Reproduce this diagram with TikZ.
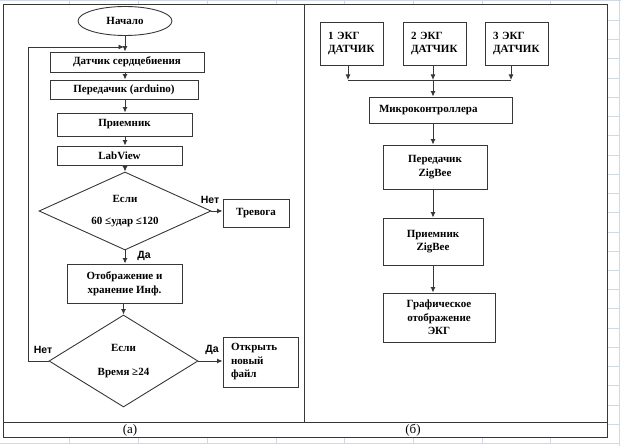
\documentclass[tikz,border=0pt]{standalone}
\usepackage{fontspec}
\setmainfont{Liberation Serif}
\newfontfamily\tagfont{Liberation Sans}
\usetikzlibrary{arrows.meta, shapes.geometric}

\definecolor{gridline}{RGB}{208,215,229}
\definecolor{frameline}{RGB}{55,55,55}

\begin{document}
\begin{tikzpicture}[
		x=1pt, y=-1pt, % pixel-like coordinates, y downwards
		>={Latex[length=5.5pt,width=5pt]},
		font=\fontsize{11}{13.5}\selectfont\bfseries,
		line width=0.9pt,
		block/.style={draw=frameline, rectangle, inner sep=2pt, align=center},
		decision/.style={draw=frameline, diamond, aspect=2.2, inner sep=0pt, align=center},
		flow/.style={->, frameline},
		tag/.style={font=\fontsize{10.5}{12}\selectfont\tagfont\bfseries}
		]
		
		\useasboundingbox (0,0) rectangle (621,446);
		
		% --- 1. Sheet grid behind the table ---
		\draw[gridline] (0,0.5) -- (621,0.5);
		\draw[gridline] (0,443.5) -- (619.5,443.5);
		\draw[gridline] (619.5,0) -- (619.5,446);
		\foreach \gx in {69,138,207,276,344,413,482,550} {
			\draw[gridline] (\gx,0) -- (\gx,4);
			\draw[gridline] (\gx,437) -- (\gx,443.5);
		}
		\foreach \k in {0,...,22} {
			\draw[gridline] (607,{443.5-19.23*\k}) -- (619.5,{443.5-19.23*\k});
		}
		
		% --- 2. Table frame ---
		\draw[frameline] (3,4) rectangle (607,437);
		\draw[frameline] (3,422) -- (607,422);
		\draw[frameline] (304,4) -- (304,422);
		\node[font=\fontsize{13}{14}\selectfont] (capa) at (130,430) {(а)};
		\node[font=\fontsize{13}{14}\selectfont] (capb) at (413,430) {(б)};
		
		% --- 3. Left flowchart (a) ---
		\node[draw=frameline, ellipse, minimum width=94, minimum height=29, inner sep=0pt] (start) at (125,21) {Начало};
		\node[block, minimum width=154, minimum height=20] (sensor) at (127,62) {Датчик сердцебиения};
		\node[block, minimum width=148, minimum height=19] (sender) at (124,89.5) {Передачик (arduino)};
		\node[block, minimum width=135, minimum height=23] (receiver) at (124.5,124.5) {Приемник};
		\node[block, minimum width=125, minimum height=19] (labview) at (119.5,155.5) {LabView};
		\node[decision, minimum width=172, minimum height=78] (check) at (125,211) {Если\\[8pt]60 ≤удар ≤120};
		\node[block, minimum width=66, minimum height=28] (alarm) at (256,213) {Тревога};
		\node[block, minimum width=115, minimum height=39] (store) at (124.5,283.5) {Отображение и\\хранение Инф.};
		\node[decision, minimum width=149, minimum height=92] (timer) at (123.5,361) {Если\\[10pt]Время ≥24};
		\node[block, minimum width=75, minimum height=50, text width=59, align=left, inner xsep=8pt] (newfile) at (260.5,362) {Открыть\\новый\\файл};
		
		\coordinate (join) at (124,47);
		
		\draw[flow] (start.south) -- (sensor.north -| start);
		\draw[flow] (sensor.south -| start) -- (sender.north -| start);
		\draw[flow] (sender.south -| start) -- (receiver.north -| start);
		\draw[flow] (receiver.south -| start) -- (labview.north -| start);
		\draw[flow] (labview.south -| start) -- (check.north -| start);
		\draw[flow] (check.east) -- (alarm.west |- check.east);
		\draw[flow] (check.south -| start) -- (store.north -| start);
		\draw[flow] (store.south -| timer) -- (timer.north);
		\draw[flow] (timer.east) -- (newfile.west |- timer.east);
		\draw[flow] (timer.west) -- ++(-20,0) |- (join);
		
		\node[tag] (noa) at (210,200) {Нет};
		\node[tag] (yesa) at (144,256) {Да};
		\node[tag] (nob) at (43,350) {Нет};
		\node[tag] (yesb) at (212,350) {Да};
		
		% --- 4. Right block diagram (б) ---
		\node[block, minimum width=63, minimum height=43, text width=47, align=left, inner xsep=8pt] (ecg1) at (351.5,43.5) {1 ЭКГ\\ДАТЧИК};
		\node[block, minimum width=63, minimum height=43, text width=47, align=left, inner xsep=8pt] (ecg2) at (434.5,43.5) {2 ЭКГ\\ДАТЧИК};
		\node[block, minimum width=63, minimum height=43, text width=47, align=left, inner xsep=8pt] (ecg3) at (516.5,43.5) {3 ЭКГ\\ДАТЧИК};
		\node[block, minimum width=143, minimum height=26, text width=123, align=left, inner xsep=10pt] (mcu) at (440.5,110) {Микроконтроллера};
		\node[block, minimum width=104, minimum height=44] (zbtx) at (435,167) {Передачик\\ZigBee};
		\node[block, minimum width=100, minimum height=47] (zbrx) at (433,241.5) {Приемник\\ZigBee};
		\node[block, minimum width=112, minimum height=49] (plot) at (439,317.5) {Графическое\\отображение\\ЭКГ};
		
		\coordinate (bus1) at (348,80);
		\coordinate (bus2) at (433,80);
		\coordinate (bus3) at (511,80);
		
		\draw[flow] (ecg1.south -| bus1) -- (bus1);
		\draw[flow] (ecg2.south -| bus2) -- (bus2);
		\draw[flow] (ecg3.south -| bus3) -- (bus3);
		\draw[frameline] (bus1) -- (bus3);
		\draw[flow] (bus2) -- (mcu.north -| bus2);
		\draw[flow] (mcu.south -| bus2) -- (zbtx.north -| bus2);
		\draw[flow] (zbtx.south -| bus2) -- (zbrx.north -| bus2);
		\draw[flow] (zbrx.south -| bus2) -- (plot.north -| bus2);
		
	\end{tikzpicture}
\end{document}
